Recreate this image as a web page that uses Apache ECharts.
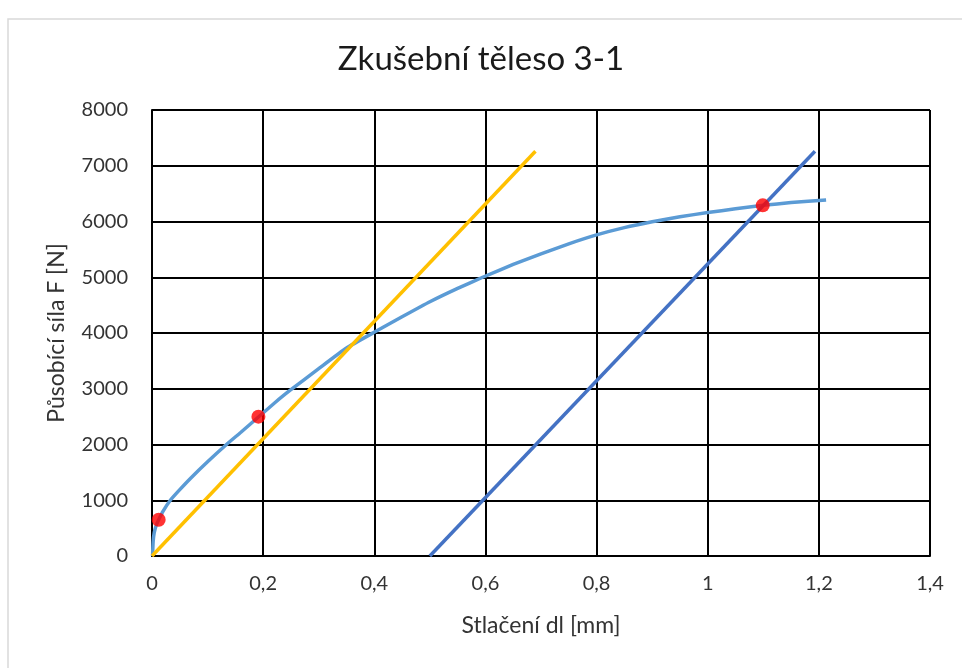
<!DOCTYPE html>
<html>
<head>
<meta charset="utf-8">
<script src="https://cdn.jsdelivr.net/npm/echarts@6/dist/echarts.min.js"></script>
<style>
  html, body { margin: 0; padding: 0; background: #fff; }
  #chart { width: 962px; height: 668px; }
</style>
</head>
<body>
<div id="chart"></div>
<script>
// Measured load curve: compression dl [mm] vs. force F [N]
const curveX = [0.001, 0.002, 0.004, 0.008, 0.012, 0.02, 0.033, 0.05, 0.07, 0.1, 0.134, 0.16, 0.19, 0.22, 0.247, 0.3, 0.35, 0.403, 0.45, 0.5, 0.55, 0.595, 0.65, 0.7, 0.75, 0.8, 0.85, 0.9, 0.95, 1.0, 1.05, 1.1, 1.15, 1.213];
const curveY = [0, 250, 420, 560, 650, 805, 1000, 1190, 1400, 1690, 2000, 2220, 2480, 2740, 2960, 3360, 3730, 4030, 4290, 4560, 4800, 5000, 5230, 5420, 5600, 5760, 5890, 5995, 6085, 6160, 6228, 6290, 6340, 6386];

// Elastic line through the origin
const elasticX = [0, 0.69];
const elasticY = [0, 7260];

// Same slope shifted by 0.5 mm (offset line)
const offsetX = [0.5, 1.193];
const offsetY = [0, 7260];

// Marked points on the curve
const pointX = [0.012, 0.1915, 1.099];
const pointY = [650, 2500, 6290];

const xTicks = { min: 0, max: 1.4, interval: 0.2 };
const yTicks = { min: 0, max: 8000, interval: 1000 };

const pairs = (xs, ys) => xs.map((x, i) => [x, ys[i]]);

const font = 'Lato, "Open Sans", sans-serif';
const chart = echarts.init(document.getElementById('chart'), null, { renderer: 'canvas' });

chart.setOption({
  animation: false,
  backgroundColor: '#ffffff',
  graphic: [{
    type: 'rect',
    shape: { x: 8, y: 19, width: 1000, height: 700 },
    style: { fill: 'none', stroke: '#d9d9d9', lineWidth: 1.5 },
    silent: true
  }],
  title: {
    text: 'Zkušební těleso 3-1',
    left: 'center',
    top: 38,
    textStyle: { fontFamily: font, fontSize: 33, fontWeight: 'normal', color: '#1a1a1a' }
  },
  grid: { left: 152, right: 32, top: 110, bottom: 112, containLabel: false },
  xAxis: {
    type: 'value',
    min: xTicks.min, max: xTicks.max, interval: xTicks.interval,
    name: 'Stlačení dl [mm]',
    nameLocation: 'middle',
    nameGap: 58,
    nameTextStyle: { fontFamily: font, fontSize: 23, color: '#333' },
    axisLine: { show: true, lineStyle: { color: '#000', width: 2 } },
    axisTick: { show: false },
    splitLine: { show: true, lineStyle: { color: '#000', width: 2 } },
    axisLabel: {
      fontFamily: font, fontSize: 20, color: '#333', margin: 18,
      formatter: v => String(Math.round(v * 10) / 10).replace('.', ',')
    }
  },
  yAxis: {
    type: 'value',
    min: yTicks.min, max: yTicks.max, interval: yTicks.interval,
    name: 'Působící síla F [N]',
    nameLocation: 'middle',
    nameGap: 84,
    nameRotate: 90,
    nameTextStyle: { fontFamily: font, fontSize: 23, color: '#333' },
    axisLine: { show: true, lineStyle: { color: '#000', width: 2 } },
    axisTick: { show: false },
    splitLine: { show: true, lineStyle: { color: '#000', width: 2 } },
    axisLabel: {
      fontFamily: font, fontSize: 20, color: '#333', margin: 24,
      formatter: v => String(v)
    }
  },
  series: [
    {
      name: 'curve', type: 'line', smooth: 0.15, showSymbol: false,
      data: pairs(curveX, curveY),
      lineStyle: { color: '#5B9BD5', width: 3.5 }, z: 3
    },
    {
      name: 'elastic', type: 'line', showSymbol: false,
      data: pairs(elasticX, elasticY),
      lineStyle: { color: '#FFC000', width: 3.5 }, z: 3
    },
    {
      name: 'offset', type: 'line', showSymbol: false,
      data: pairs(offsetX, offsetY),
      lineStyle: { color: '#4472C4', width: 3.5 }, z: 3
    },
    {
      name: 'points', type: 'scatter', symbol: 'circle', symbolSize: 14,
      data: pairs(pointX, pointY),
      itemStyle: { color: '#FF0000' }, z: 5
    }
  ]
});
</script>
</body>
</html>
